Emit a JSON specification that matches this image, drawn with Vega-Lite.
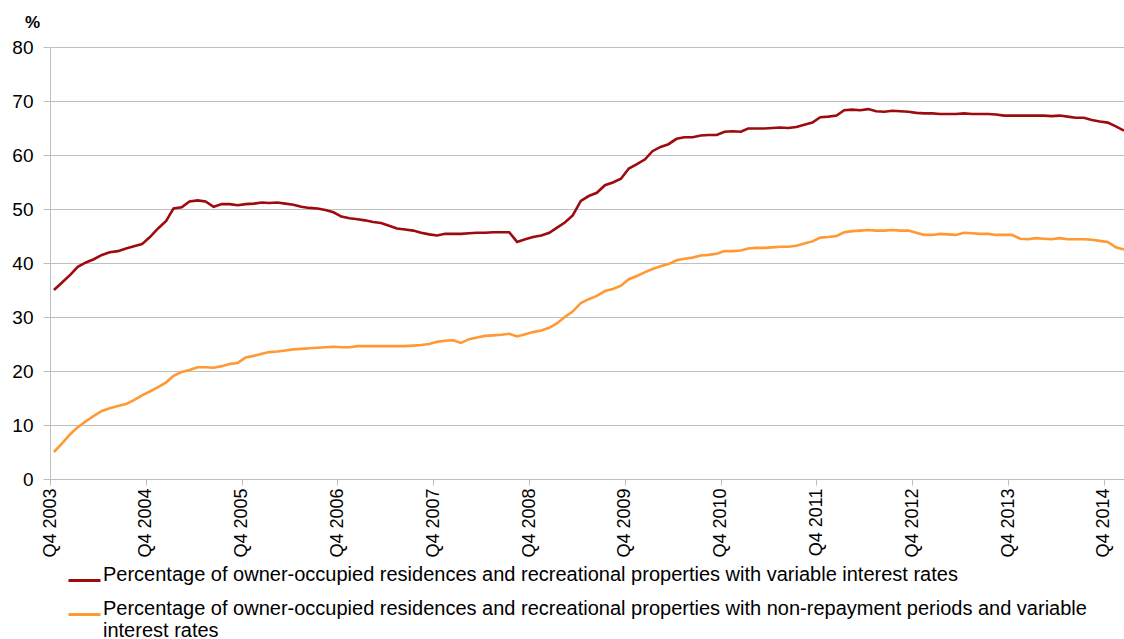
{
  "$schema": "https://vega.github.io/schema/vega-lite/v6.json",
  "autosize": {"type": "none"},
  "padding": {"left": 50, "top": 47, "right": 0, "bottom": 160},
  "width": 1074,
  "height": 432,
  "background": "white",
  "config": {"view": {"stroke": null}, "font": "Liberation Sans"},
  "data": {
    "format": {"parse": {"d": "date:'%Y-%m'"}},
    "values": [
      {"d":"2003-12","a":35.0,"b":5.0},
      {"d":"2004-01","a":36.4,"b":6.6},
      {"d":"2004-02","a":37.8,"b":8.3},
      {"d":"2004-03","a":39.3,"b":9.6},
      {"d":"2004-04","a":40.1,"b":10.7},
      {"d":"2004-05","a":40.7,"b":11.7},
      {"d":"2004-06","a":41.5,"b":12.6},
      {"d":"2004-07","a":42.0,"b":13.1},
      {"d":"2004-08","a":42.2,"b":13.5},
      {"d":"2004-09","a":42.7,"b":13.9},
      {"d":"2004-10","a":43.1,"b":14.6},
      {"d":"2004-11","a":43.5,"b":15.5},
      {"d":"2004-12","a":44.8,"b":16.2},
      {"d":"2005-01","a":46.4,"b":17.0},
      {"d":"2005-02","a":47.8,"b":17.9},
      {"d":"2005-03","a":50.1,"b":19.1},
      {"d":"2005-04","a":50.3,"b":19.8},
      {"d":"2005-05","a":51.4,"b":20.2},
      {"d":"2005-06","a":51.6,"b":20.7},
      {"d":"2005-07","a":51.4,"b":20.7},
      {"d":"2005-08","a":50.4,"b":20.6},
      {"d":"2005-09","a":50.9,"b":20.9},
      {"d":"2005-10","a":50.9,"b":21.3},
      {"d":"2005-11","a":50.7,"b":21.5},
      {"d":"2005-12","a":50.9,"b":22.5},
      {"d":"2006-01","a":51.0,"b":22.8},
      {"d":"2006-02","a":51.2,"b":23.2},
      {"d":"2006-03","a":51.1,"b":23.5},
      {"d":"2006-04","a":51.2,"b":23.6},
      {"d":"2006-05","a":51.0,"b":23.8},
      {"d":"2006-06","a":50.8,"b":24.0},
      {"d":"2006-07","a":50.4,"b":24.1},
      {"d":"2006-08","a":50.2,"b":24.2},
      {"d":"2006-09","a":50.1,"b":24.3},
      {"d":"2006-10","a":49.8,"b":24.4},
      {"d":"2006-11","a":49.4,"b":24.5},
      {"d":"2006-12","a":48.6,"b":24.4},
      {"d":"2007-01","a":48.3,"b":24.4},
      {"d":"2007-02","a":48.1,"b":24.6},
      {"d":"2007-03","a":47.9,"b":24.6},
      {"d":"2007-04","a":47.6,"b":24.6},
      {"d":"2007-05","a":47.4,"b":24.6},
      {"d":"2007-06","a":46.9,"b":24.6},
      {"d":"2007-07","a":46.4,"b":24.6},
      {"d":"2007-08","a":46.2,"b":24.6},
      {"d":"2007-09","a":46.0,"b":24.7},
      {"d":"2007-10","a":45.6,"b":24.8},
      {"d":"2007-11","a":45.3,"b":25.0},
      {"d":"2007-12","a":45.1,"b":25.4},
      {"d":"2008-01","a":45.4,"b":25.6},
      {"d":"2008-02","a":45.4,"b":25.7},
      {"d":"2008-03","a":45.4,"b":25.2},
      {"d":"2008-04","a":45.5,"b":25.9},
      {"d":"2008-05","a":45.6,"b":26.2},
      {"d":"2008-06","a":45.6,"b":26.5},
      {"d":"2008-07","a":45.7,"b":26.6},
      {"d":"2008-08","a":45.7,"b":26.7},
      {"d":"2008-09","a":45.7,"b":26.9},
      {"d":"2008-10","a":43.9,"b":26.4},
      {"d":"2008-11","a":44.4,"b":26.8},
      {"d":"2008-12","a":44.8,"b":27.2},
      {"d":"2009-01","a":45.1,"b":27.5},
      {"d":"2009-02","a":45.6,"b":28.0},
      {"d":"2009-03","a":46.5,"b":28.8},
      {"d":"2009-04","a":47.5,"b":30.0},
      {"d":"2009-05","a":48.8,"b":31.0},
      {"d":"2009-06","a":51.5,"b":32.6},
      {"d":"2009-07","a":52.4,"b":33.3},
      {"d":"2009-08","a":53.0,"b":33.9},
      {"d":"2009-09","a":54.4,"b":34.8},
      {"d":"2009-10","a":54.9,"b":35.2},
      {"d":"2009-11","a":55.6,"b":35.8},
      {"d":"2009-12","a":57.5,"b":37.0},
      {"d":"2010-01","a":58.3,"b":37.6},
      {"d":"2010-02","a":59.2,"b":38.3},
      {"d":"2010-03","a":60.7,"b":38.9},
      {"d":"2010-04","a":61.5,"b":39.4},
      {"d":"2010-05","a":62.0,"b":39.8},
      {"d":"2010-06","a":63.0,"b":40.5},
      {"d":"2010-07","a":63.3,"b":40.8},
      {"d":"2010-08","a":63.3,"b":41.0},
      {"d":"2010-09","a":63.6,"b":41.4},
      {"d":"2010-10","a":63.7,"b":41.5},
      {"d":"2010-11","a":63.7,"b":41.7},
      {"d":"2010-12","a":64.3,"b":42.2},
      {"d":"2011-01","a":64.4,"b":42.2},
      {"d":"2011-02","a":64.3,"b":42.3},
      {"d":"2011-03","a":64.9,"b":42.7},
      {"d":"2011-04","a":64.9,"b":42.8},
      {"d":"2011-05","a":64.9,"b":42.8},
      {"d":"2011-06","a":65.0,"b":42.9},
      {"d":"2011-07","a":65.1,"b":43.0},
      {"d":"2011-08","a":65.0,"b":43.0},
      {"d":"2011-09","a":65.2,"b":43.2},
      {"d":"2011-10","a":65.6,"b":43.6},
      {"d":"2011-11","a":66.0,"b":44.0},
      {"d":"2011-12","a":67.0,"b":44.7},
      {"d":"2012-01","a":67.1,"b":44.8},
      {"d":"2012-02","a":67.3,"b":45.0},
      {"d":"2012-03","a":68.3,"b":45.7},
      {"d":"2012-04","a":68.4,"b":45.9},
      {"d":"2012-05","a":68.3,"b":46.0},
      {"d":"2012-06","a":68.5,"b":46.1},
      {"d":"2012-07","a":68.1,"b":46.0},
      {"d":"2012-08","a":68.0,"b":46.0},
      {"d":"2012-09","a":68.2,"b":46.1},
      {"d":"2012-10","a":68.1,"b":46.0},
      {"d":"2012-11","a":68.0,"b":46.0},
      {"d":"2012-12","a":67.8,"b":45.6},
      {"d":"2013-01","a":67.7,"b":45.2},
      {"d":"2013-02","a":67.7,"b":45.2},
      {"d":"2013-03","a":67.6,"b":45.4},
      {"d":"2013-04","a":67.6,"b":45.3},
      {"d":"2013-05","a":67.6,"b":45.2},
      {"d":"2013-06","a":67.7,"b":45.6},
      {"d":"2013-07","a":67.6,"b":45.5},
      {"d":"2013-08","a":67.6,"b":45.4},
      {"d":"2013-09","a":67.6,"b":45.4},
      {"d":"2013-10","a":67.5,"b":45.2},
      {"d":"2013-11","a":67.3,"b":45.2},
      {"d":"2013-12","a":67.3,"b":45.2},
      {"d":"2014-01","a":67.3,"b":44.5},
      {"d":"2014-02","a":67.3,"b":44.4},
      {"d":"2014-03","a":67.3,"b":44.6},
      {"d":"2014-04","a":67.3,"b":44.5},
      {"d":"2014-05","a":67.2,"b":44.4},
      {"d":"2014-06","a":67.3,"b":44.6},
      {"d":"2014-07","a":67.1,"b":44.4},
      {"d":"2014-08","a":66.9,"b":44.4},
      {"d":"2014-09","a":66.9,"b":44.4},
      {"d":"2014-10","a":66.5,"b":44.3},
      {"d":"2014-11","a":66.2,"b":44.1},
      {"d":"2014-12","a":66.0,"b":43.9},
      {"d":"2015-01","a":65.3,"b":42.9},
      {"d":"2015-02","a":64.5,"b":42.5}
    ]
  },
  "transform": [{"fold": ["a", "b"], "as": ["s", "v"]}],
  "mark": {"type": "line", "strokeWidth": 2.6, "clip": true},
  "encoding": {
    "x": {
      "field": "d",
      "type": "temporal",
      "scale": {"domain": [{"year": 2003, "month": 11, "date": 16}, {"year": 2015, "month": 2, "date": 1}]},
      "axis": {
        "title": null,
        "values": [
          {"year": 2003, "month": 11, "date": 16},
          {"year": 2004, "month": 11, "date": 16},
          {"year": 2005, "month": 11, "date": 16},
          {"year": 2006, "month": 11, "date": 16},
          {"year": 2007, "month": 11, "date": 16},
          {"year": 2008, "month": 11, "date": 16},
          {"year": 2009, "month": 11, "date": 16},
          {"year": 2010, "month": 11, "date": 16},
          {"year": 2011, "month": 11, "date": 16},
          {"year": 2012, "month": 11, "date": 16},
          {"year": 2013, "month": 11, "date": 16},
          {"year": 2014, "month": 11, "date": 16}
        ],
        "labelExpr": "'Q4 ' + year(datum.value)",
        "labelAngle": -90,
        "labelAlign": "right",
        "labelBaseline": "middle",
        "labelFontSize": 18,
        "labelColor": "#000000",
        "labelPadding": 3,
        "labelFlush": false,
        "labelOverlap": false,
        "grid": false,
        "domainColor": "#BFBFBF",
        "tickColor": "#BFBFBF",
        "tickSize": 6
      }
    },
    "y": {
      "field": "v",
      "type": "quantitative",
      "scale": {"domain": [0, 80], "nice": false},
      "axis": {
        "values": [0, 10, 20, 30, 40, 50, 60, 70, 80],
        "title": "%",
        "titleAngle": 0,
        "titleFontSize": 17,
        "titleFontWeight": "bold",
        "titleAlign": "center",
        "titleBaseline": "alphabetic",
        "titleX": -18,
        "titleY": -20,
        "labelFontSize": 19,
        "labelColor": "#000000",
        "labelPadding": 10,
        "gridColor": "#BFBFBF",
        "domainColor": "#BFBFBF",
        "tickColor": "#BFBFBF",
        "tickSize": 7
      }
    },
    "color": {
      "field": "s",
      "type": "nominal",
      "scale": {"domain": ["a", "b"], "range": ["#9E0B0F", "#FF9933"]},
      "legend": {
        "title": null,
        "orient": "none",
        "legendX": 17,
        "legendY": 516,
        "direction": "vertical",
        "symbolType": "stroke",
        "symbolSize": 1024,
        "symbolStrokeWidth": 3,
        "labelFontSize": 20,
        "labelColor": "#000000",
        "labelLimit": 2000,
        "labelOffset": 1,
        "labelBaseline": "alphabetic",
        "labelLineHeight": 19,
        "rowPadding": 10,
        "labelExpr": "datum.value == 'a' ? 'Percentage of owner-occupied residences and recreational properties with variable interest rates' : ['Percentage of owner-occupied residences and recreational properties with non-repayment periods and variable', 'interest rates']"
      }
    }
  }
}
